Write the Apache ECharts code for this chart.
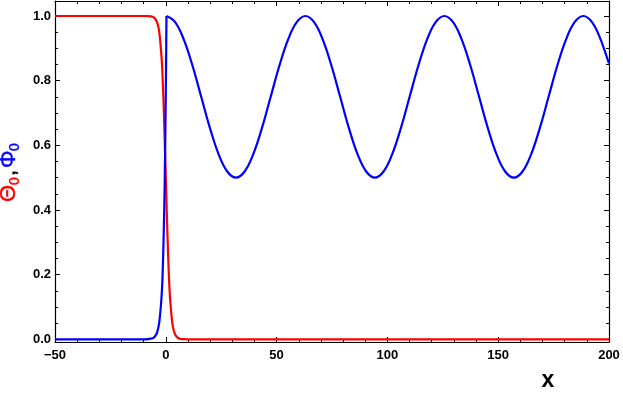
<!DOCTYPE html>
<html><head><meta charset="utf-8">
<script src="https://cdn.jsdelivr.net/npm/echarts@6/dist/echarts.min.js"></script>
<style>html,body{margin:0;padding:0;background:#fff}#c{width:623px;height:395px}</style>
</head><body><div id="c"></div>
<script>
// Θ0 (red)
const redX = [-50, -10, -8, -7, -6, -5, -4, -3, -2, -1.5, -1, -0.5, 0, 0.5, 1, 1.5, 2, 3, 4, 5, 6, 8, 10, 200];
const redY = [1, 1, 0.9997, 0.999, 0.998, 0.993, 0.982, 0.953, 0.88, 0.82, 0.73, 0.62, 0.5, 0.38, 0.27, 0.18, 0.12, 0.047, 0.018, 0.007, 0.002, 0.0003, 0, 0];
// Φ0 (blue) steep rise near x=0
const blueRiseX = [-50, -10, -8, -7, -6, -5, -4, -3, -2, -1.5, -1, -0.5, 0, 0.3];
const blueRiseY = [0, 0, 0.0005, 0.002, 0.003, 0.008, 0.02, 0.05, 0.123, 0.19, 0.31, 0.48, 0.76, 1.0];
// Φ0 (blue) oscillation
const blueWaveX = [0.3, 4.22, 8.14, 12.06, 15.98, 19.9, 23.81, 27.73, 31.65, 35.57, 39.49, 43.41, 47.33, 51.25, 55.17, 59.09,
  63.0, 66.92, 70.84, 74.76, 78.68, 82.6, 86.52, 90.43, 94.35, 98.27, 102.19, 106.11, 110.03, 113.95, 117.87, 121.79,
  125.71, 129.63, 133.55, 137.47, 141.38, 145.3, 149.22, 153.14, 157.06, 160.98, 164.9, 168.82, 172.74, 176.66, 180.58, 184.5,
  188.41, 192.33, 196.25, 200];
const blueWaveY = [1, 0.981, 0.927, 0.846, 0.75, 0.654, 0.573, 0.519, 0.5, 0.519, 0.573, 0.654, 0.75, 0.846, 0.927, 0.981,
  1, 0.981, 0.927, 0.846, 0.75, 0.654, 0.573, 0.519, 0.5, 0.519, 0.573, 0.654, 0.75, 0.846, 0.927, 0.981,
  1, 0.981, 0.927, 0.846, 0.75, 0.654, 0.573, 0.519, 0.5, 0.519, 0.573, 0.654, 0.75, 0.846, 0.927, 0.981,
  1, 0.981, 0.927, 0.853];
const xMajor = [-50, 0, 50, 100, 150, 200];
const xMinor = [-40, -30, -20, -10, 10, 20, 30, 40, 60, 70, 80, 90, 110, 120, 130, 140, 160, 170, 180, 190];
const yMajor = [0, 0.2, 0.4, 0.6, 0.8, 1.0];
const yMinor = [0.05, 0.1, 0.15, 0.25, 0.3, 0.35, 0.45, 0.5, 0.55, 0.65, 0.7, 0.75, 0.85, 0.9, 0.95];

const zip = (a, b) => a.map((v, i) => [v, b[i]]);
const chart = echarts.init(document.getElementById('c'));
const FONT = '"Liberation Sans", Arial, sans-serif';
const lineStyle = { color: '#000', width: 1.2 };
const XMIN = -50, XMAX = 200, YMIN = -0.0084, YMAX = 1.0464;
function xAx(pos, ticks, len, labels, line) {
  return { type: 'value', position: pos, min: XMIN, max: XMAX, gridIndex: 0,
    axisLine: { show: line, onZero: false, lineStyle },
    splitLine: { show: false },
    axisTick: { show: true, inside: true, length: len, customValues: ticks, lineStyle: { color: '#000', width: 1 } },
    axisLabel: { show: labels, customValues: xMajor, margin: 7, color: '#000', fontWeight: 'bold', fontSize: 13, fontFamily: FONT,
      formatter: v => (v < 0 ? '\u2212' + Math.abs(v) : String(v)) } };
}
function yAx(pos, ticks, len, labels, line) {
  return { type: 'value', position: pos, min: YMIN, max: YMAX, gridIndex: 0,
    axisLine: { show: line, onZero: false, lineStyle },
    splitLine: { show: false },
    axisTick: { show: true, inside: true, length: len, customValues: ticks, lineStyle: { color: '#000', width: 1 } },
    axisLabel: { show: labels, customValues: yMajor, margin: 4, color: '#000', fontWeight: 'bold', fontSize: 13, fontFamily: FONT,
      formatter: v => v.toFixed(1) } };
}
const T = (x, y, text, fill, font) => ({ type: 'text', x, y,
  style: { text, fill, font: font + ' ' + FONT, align: 'left', verticalAlign: 'middle', stroke: fill, lineWidth: 0.4 } });
chart.setOption({
  animation: false,
  grid: { left: 55, right: 14, top: 1, bottom: 53 },
  xAxis: [xAx('bottom', xMajor, 5, true, true), xAx('bottom', xMinor, 3, false, false),
          xAx('top', xMajor, 5, false, true), xAx('top', xMinor, 3, false, false)],
  yAxis: [yAx('left', yMajor, 5, true, true), yAx('left', yMinor, 3, false, false),
          yAx('right', yMajor, 5, false, true), yAx('right', yMinor, 3, false, false)],
  series: [
    { type: 'line', data: zip(redX, redY), showSymbol: false, smooth: 0.3, clip: true,
      lineStyle: { color: '#ff0000', width: 2.2 } },
    { type: 'line', data: zip(blueRiseX, blueRiseY), showSymbol: false, smooth: 0.3, clip: true,
      lineStyle: { color: '#0000ff', width: 2.2 } },
    { type: 'line', data: zip(blueWaveX, blueWaveY), showSymbol: false, smooth: 0.4, clip: true,
      lineStyle: { color: '#0000ff', width: 2.2 } }
  ],
  graphic: [
    { type: 'group', x: 9, y: 202, rotation: Math.PI / 2, children: [
      T(0, 0, '\u0398', '#ff0000', '22px'),
      T(17, 6.5, '0', '#ff0000', '14px'),
      T(26, 0, ',', '#000', '22px'),
      T(34, 0, '\u03A6', '#0000ff', '22px'),
      T(51, 6.5, '0', '#0000ff', '14px')
    ] },
    { type: 'text', x: 548, y: 381, style: { text: 'x', fill: '#000', font: 'bold 23px ' + FONT, align: 'center', verticalAlign: 'middle' } }
  ]
});
</script></body></html>
